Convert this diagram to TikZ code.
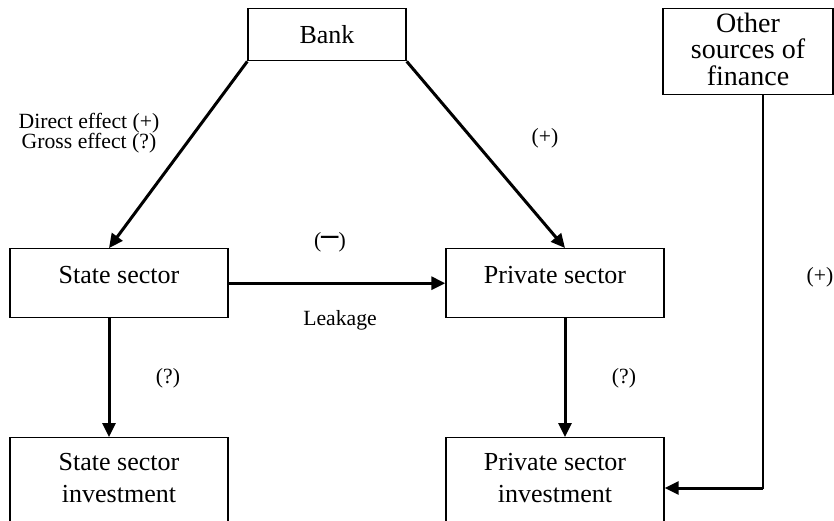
\documentclass[tikz,border=0pt]{standalone}
\usepackage{fontspec}
\setmainfont{Liberation Serif}
\usepackage{graphicx}
\usetikzlibrary{arrows.meta}
\begin{document}
\begin{tikzpicture}[x=1pt,y=-1pt,
  box/.style={draw, line width=1.4pt, inner sep=0pt, minimum height=0pt, anchor=north, font=\fontsize{26}{32}\selectfont},
  lbl/.style={inner sep=0pt, font=\fontsize{21.7}{20}\selectfont},
  arr/.style={line width=3pt, -{Triangle[length=14pt,width=13pt]}},
  ]
\clip (0,0) rectangle (834,520);
% boxes
\node[box, minimum width=158pt, text height=35pt, text depth=17pt] (bank) at (327,8) {Bank};
\node[box, minimum width=170pt, text height=24pt, text depth=62pt, font=\fontsize{28}{25}\selectfont] (other) at (748,8)
  {\begin{tabular}[t]{@{}c@{}}Other\\[-1pt]sources of\\[-1pt]finance\end{tabular}};
\node[box, minimum width=218pt, text height=35pt, text depth=34pt] (state) at (119,248) {State sector};
\node[box, minimum width=218pt, text height=35pt, text depth=34pt] (private) at (555,248) {Private sector};
\node[box, minimum width=218pt, text height=33pt, text depth=62pt] (stinv) at (119,437)
  {\begin{tabular}[t]{@{}c@{}}State sector\\investment\end{tabular}};
\node[box, minimum width=218pt, text height=33pt, text depth=62pt] (prinv) at (555,437)
  {\begin{tabular}[t]{@{}c@{}}Private sector\\investment\end{tabular}};
% labels
\node[lbl, align=center] (dg) at (89,133) {Direct effect (+)\\Gross effect (?)};
\node[lbl] (pplus) at (545,138) {(+)};
\node[lbl] (minus) at (330,242) {(\scalebox{0.8}[2]{—})};
\node[lbl, anchor=base] (leak) at (340,325) {Leakage};
\node[lbl] (q1) at (168,378) {(?)};
\node[lbl] (q2) at (624,378) {(?)};
\node[lbl] (oplus) at (820,277) {(+)};
% connectors
\draw[arr] (bank.south west) -- ([xshift=-10pt]state.north);
\draw[arr] (bank.south east) -- ([xshift=10pt]private.north);
\draw[arr] (state.east) -- (private.west);
\draw[arr] ([xshift=-10pt]state.south) -- ([xshift=-10pt]stinv.north);
\draw[arr] ([xshift=10pt]private.south) -- ([xshift=10pt]prinv.north);
\coordinate (turn) at (763,488);
\draw[line width=2pt, line cap=rect] ([xshift=15pt]other.south) -- (turn);
\draw[arr] (turn) -- (turn -| prinv.east);
\end{tikzpicture}
\end{document}
